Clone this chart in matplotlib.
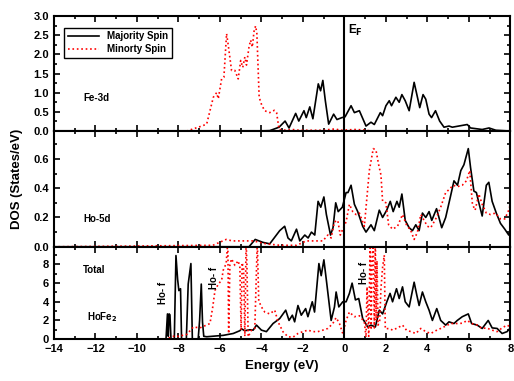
import matplotlib
matplotlib.use("Agg")
import matplotlib.pyplot as plt
from matplotlib.ticker import MultipleLocator

plt.rcParams["font.family"] = ["Liberation Sans", "DejaVu Sans"]
plt.rcParams["font.weight"] = "bold"
plt.rcParams["axes.labelweight"] = "bold"

# ---- Fe-3d ----
e_fe_up = [-14, -4.2, -3.6, -3.15, -2.86, -2.67, -2.35, -2.2, -1.95, -1.84, -1.67, -1.52,
           -1.26, -1.15, -1.04, -0.92, -0.76, -0.52, -0.36, -0.12, 0.03, 0.32, 0.48, 0.72,
           1.04, 1.28, 1.44, 1.73, 1.84, 2.0, 2.16, 2.27, 2.48, 2.64, 2.77, 2.93, 3.12,
           3.36, 3.52, 3.63, 3.79, 3.92, 4.08, 4.2, 4.39, 4.59, 4.8, 5.04, 5.2, 5.92,
           6.08, 6.64, 6.97, 7.3, 8.0]
fe_up = [0, 0, 0.01, 0.1, 0.26, 0.08, 0.46, 0.26, 0.53, 0.35, 0.63, 0.32,
         1.23, 1.05, 1.32, 0.79, 0.18, 0.44, 0.3, 0.35, 0.37, 0.66, 0.48, 0.53,
         0.13, 0.23, 0.17, 0.48, 0.4, 0.66, 0.79, 0.66, 0.88, 0.75, 0.95, 0.79, 0.53,
         1.27, 0.88, 0.61, 0.95, 0.83, 0.44, 0.35, 0.53, 0.26, 0.1, 0.13, 0.1, 0.17,
         0.08, 0.04, 0.08, 0.02, 0.0]
e_fe_dn = [-14, -7.6, -6.88, -6.64, -6.32, -6.16, -6.08, -5.92, -5.81, -5.68, -5.6, -5.44,
           -5.28, -5.12, -5.0, -4.9, -4.8, -4.72, -4.6, -4.52, -4.44, -4.35, -4.28, -4.22,
           -4.11, -4.0, -3.85, -3.6, -3.38, -3.27, -3.15, -2.8, -2.5, -2.2, -1.0, -0.6,
           -0.4, -0.2, 0.5, 0.9, 1.3, 8.0]
fe_dn = [0, 0, 0.13, 0.18, 0.88, 1.0, 0.84, 1.36, 1.4, 2.54, 2.24, 1.58,
         1.58, 1.36, 1.84, 1.66, 1.93, 1.72, 2.19, 2.37, 2.19, 2.63, 2.74, 2.54,
         0.88, 0.7, 0.53, 0.48, 0.54, 0.48, 0.04, 0.02, 0.04, 0.02, 0.02, 0.05,
         0.05, 0.02, 0.04, 0.03, 0.0, 0.0]

# ---- Ho-5d ----
e_ho_up = [-14, -4.6, -4.3, -3.93, -3.6, -3.12, -2.88, -2.72, -2.56, -2.31, -2.15, -1.91,
           -1.75, -1.59, -1.43, -1.27, -1.14, -0.99, -0.87, -0.67, -0.55, -0.42, -0.3,
           -0.1, 0.08, 0.17, 0.32, 0.48, 0.64, 0.88, 1.04, 1.28, 1.44, 1.68, 1.84, 2.04,
           2.21, 2.35, 2.53, 2.64, 2.77, 2.93, 3.12, 3.28, 3.44, 3.6, 3.76, 3.92, 4.08,
           4.21, 4.44, 4.69, 4.88, 5.09, 5.28, 5.45, 5.61, 5.76, 5.97, 6.08, 6.24, 6.36,
           6.48, 6.64, 6.84, 6.96, 7.12, 7.32, 7.52, 7.73, 7.92, 8.0]
ho_up = [0, 0, 0.05, 0.03, 0.02, 0.11, 0.14, 0.06, 0.04, 0.12, 0.04, 0.08,
         0.06, 0.1, 0.08, 0.31, 0.27, 0.34, 0.22, 0.08, 0.13, 0.3, 0.24,
         0.27, 0.37, 0.37, 0.42, 0.29, 0.24, 0.14, 0.1, 0.15, 0.11, 0.25, 0.2, 0.25,
         0.31, 0.24, 0.31, 0.27, 0.36, 0.18, 0.13, 0.11, 0.15, 0.11, 0.23, 0.2, 0.24,
         0.18, 0.26, 0.13, 0.2, 0.33, 0.45, 0.42, 0.52, 0.56, 0.67, 0.54, 0.38, 0.37,
         0.3, 0.21, 0.42, 0.44, 0.31, 0.23, 0.16, 0.12, 0.08, 0.11]
e_ho_dn = [-14, -6.34, -5.7, -5.4, -4.8, -4.4, -3.77, -3.1, -2.3, -1.84, -1.04, -0.8,
           -0.64, -0.48, -0.32, -0.2, -0.08, 0.08, 0.24, 0.4, 0.56, 0.72, 0.96, 1.2,
           1.39, 1.52, 1.65, 1.76, 1.84, 2.0, 2.13, 2.32, 2.56, 2.8, 2.99, 3.2, 3.36,
           3.52, 3.68, 3.84, 4.0, 4.16, 4.4, 4.64, 4.88, 5.04, 5.24, 5.44, 5.68, 5.88,
           6.04, 6.17, 6.3, 6.48, 6.64, 6.84, 7.04, 7.28, 7.52, 7.73, 7.92, 8.0]
ho_dn = [0, 0.01, 0.05, 0.04, 0.04, 0.04, 0.02, 0.01, 0.01, 0.04, 0.04, 0.08,
         0.06, 0.17, 0.18, 0.08, 0.12, 0.17, 0.29, 0.24, 0.22, 0.23, 0.14, 0.52,
         0.67, 0.66, 0.56, 0.49, 0.31, 0.3, 0.15, 0.12, 0.14, 0.22, 0.15, 0.11, 0.05,
         0.1, 0.22, 0.18, 0.14, 0.13, 0.19, 0.27, 0.37, 0.39, 0.42, 0.41, 0.42, 0.45,
         0.52, 0.29, 0.25, 0.36, 0.29, 0.23, 0.22, 0.23, 0.19, 0.19, 0.25, 0.29]

# ---- Total ----
e_tot_up = [-14, -8.6, -8.53, -8.49, -8.45, -8.41, -8.36, -8.2, -8.12, -8.04, -7.98, -7.9,
            -7.85, -7.62, -7.53, -7.4, -7.33, -7.05, -6.98, -6.9, -6.84, -6.78, -6.64,
            -5.84, -5.36, -5.04, -4.96, -4.8, -4.56, -4.4, -4.24, -4.0, -3.76, -3.44,
            -3.12, -2.83, -2.67, -2.51, -2.4, -2.24, -2.08, -1.87, -1.76, -1.55, -1.44,
            -1.23, -1.12, -0.99, -0.85, -0.64, -0.48, -0.4, -0.27, -0.08, 0.08, 0.24,
            0.37, 0.53, 0.69, 0.88, 1.12, 1.28, 1.49, 1.68, 1.84, 2.04, 2.2, 2.32, 2.51,
            2.64, 2.8, 2.93, 3.12, 3.36, 3.49, 3.6, 3.76, 3.92, 4.08, 4.24, 4.45, 4.64,
            4.88, 5.04, 5.28, 5.44, 5.68, 5.97, 6.13, 6.4, 6.64, 6.93, 7.12, 7.36, 7.6,
            7.84, 8.0]
tot_up = [0, 0, 2.7, 0.3, 2.7, 2.6, 0, 0, 8.96, 6.4, 5.2, 5.4,
          0, 0, 5.9, 8.1, 0, 0, 2.0, 5.9, 1.8, 0.3, 0.25,
          0.4, 0.6, 0.9, 1.1, 0.9, 1.0, 0.96, 1.5, 0.96, 0.8, 1.67,
          2.2, 3.1, 2.0, 2.56, 1.85, 3.6, 2.56, 3.27, 2.4, 4.0, 2.9,
          8.1, 6.8, 8.5, 5.94, 2.0, 3.45, 5.05, 3.45, 4.0, 4.0, 4.9,
          6.0, 4.2, 4.35, 2.2, 1.3, 1.5, 1.3, 3.1, 2.7, 3.98, 4.9, 4.0, 5.4,
          4.35, 5.6, 4.0, 3.45, 6.1, 4.7, 3.6, 5.05, 4.0, 3.1, 2.0, 3.27, 2.0,
          1.5, 1.85, 1.67, 2.0, 2.4, 2.7, 1.67, 1.5, 1.14, 2.0, 1.2, 1.14, 0.6,
          0.8, 1.2]
e_tot_dn = [-14, -8.6, -8.24, -8.0, -7.6, -7.28, -6.97, -6.65, -6.48, -6.35, -6.24, -6.08,
            -5.92, -5.84, -5.7, -5.62, -5.58, -5.52, -5.44, -5.28, -5.12, -5.04, -4.98,
            -4.93, -4.86, -4.8, -4.74, -4.7, -4.64, -4.48, -4.32, -4.2, -4.13, -4.0, -3.84,
            -3.6, -3.36, -3.2, -2.96, -2.72, -2.48, -2.24, -2.0, -1.76, -1.52, -1.28,
            -1.04, -0.8, -0.56, -0.4, -0.24, -0.08, 0.08, 0.24, 0.48, 0.72, 0.96, 1.04,
            1.09, 1.17, 1.24, 1.29, 1.33, 1.39, 1.44, 1.49, 1.53, 1.57, 1.62, 1.7, 1.76,
            1.84, 1.92, 1.97, 2.16, 2.32, 2.56, 2.8, 2.99, 3.2, 3.44, 3.68, 3.92, 4.16,
            4.4, 4.64, 4.88, 5.12, 5.44, 5.68, 5.92, 6.13, 6.4, 6.64, 6.84, 7.12, 7.36,
            7.6, 7.84, 8.0]
tot_dn = [0, 0, 0.3, 0.3, 0.5, 1.3, 1.2, 1.5, 1.67, 3.4, 5.2, 5.9,
          6.3, 7.4, 8.1, 10.5, 0.6, 8.0, 8.6, 7.9, 8.4, 7.7, 0.96,
          8.2, 7.5, 0.3, 10.5, 8.0, 0.25, 0.96, 1.14, 10.5, 4.1, 3.45, 2.9,
          2.7, 3.1, 1.85, 0.78, 0.25, 0.2, 0.6, 0.8, 0.96, 0.8, 0.8,
          0.96, 1.14, 1.67, 2.3, 1.67, 0.6, 2.0, 2.9, 2.4, 2.5, 1.85, 0.2,
          5.6, 0.3, 10.5, 1.0, 8.4, 10.5, 1.2, 10.5, 2.0, 8.4, 1.5, 2.0, 5.4,
          7.7, 9.0, 1.1, 1.14, 0.96, 1.2, 1.5, 0.96, 0.8, 0.6, 1.14, 0.8, 0.6,
          0.9, 1.14, 1.4, 1.67, 1.67, 1.7, 2.0, 1.67, 1.5, 1.14, 1.2, 0.96, 0.8,
          1.2, 1.5, 1.3]

panels = [("Fe-3d", e_fe_up, fe_up, e_fe_dn, fe_dn),
          ("Ho-5d", e_ho_up, ho_up, e_ho_dn, ho_dn),
          ("Total", e_tot_up, tot_up, e_tot_dn, tot_dn)]

fig, axes = plt.subplots(3, 1, sharex=True, figsize=(5.14, 3.81), dpi=100,
                         gridspec_kw=dict(height_ratios=[115, 115.7, 92.3], hspace=0,
                                          left=0.105, right=0.993, top=0.958, bottom=0.11))

for ax, (name, eu, up, ed, dn) in zip(axes, panels):
    ax.plot(eu, up, color="black", lw=1.2, label="Majority Spin")
    ax.plot(ed, dn, color="red", lw=1.2, ls=":", label="Minorty Spin")
    ax.axvline(0, color="black", lw=1.5)
    ax.set_xlim(-14, 8)
    ax.xaxis.set_major_locator(MultipleLocator(2))
    ax.xaxis.set_minor_locator(MultipleLocator(1))
    ax.tick_params(which="both", direction="in", top=True, right=True, labelsize=8, width=1.2)
    ax.tick_params(which="major", length=4)
    ax.tick_params(which="minor", length=2.5)
    for s in ax.spines.values():
        s.set_linewidth(1.5)

axes[0].set_ylim(0, 3)
axes[0].yaxis.set_major_locator(MultipleLocator(0.5))
axes[0].yaxis.set_minor_locator(MultipleLocator(0.25))
axes[0].yaxis.set_major_formatter(plt.FormatStrFormatter("%.1f"))
axes[1].set_ylim(0, 0.79)
axes[1].yaxis.set_major_locator(MultipleLocator(0.2))
axes[1].yaxis.set_minor_locator(MultipleLocator(0.1))
axes[1].yaxis.set_major_formatter(plt.FormatStrFormatter("%.1f"))
axes[2].set_ylim(0, 9.9)
axes[2].yaxis.set_major_locator(MultipleLocator(2))
axes[2].yaxis.set_minor_locator(MultipleLocator(1))

axes[0].legend(loc="upper left", bbox_to_anchor=(0.022, 0.9), borderaxespad=0,
               fancybox=False, edgecolor="black", framealpha=1, fontsize=7,
               handlelength=3.2, borderpad=0.4, labelspacing=0.3)
axes[0].get_legend().get_frame().set_linewidth(1.0)

axes[0].text(-12.6, 0.87, "Fe-3d", fontsize=7, va="center")
axes[0].text(0.15, 2.62, "E$_\\mathbf{F}$", fontsize=8.5, va="center")
axes[1].text(-12.6, 0.19, "Ho-5d", fontsize=7, va="center")
axes[2].text(-12.6, 7.4, "Total", fontsize=7, va="center")
axes[2].text(-12.4, 2.4, "HoFe$_\\mathbf{2}$", fontsize=7, va="center")
axes[2].text(-8.75, 5.0, "Ho- f", fontsize=7, rotation=90, ha="center", va="center")
axes[2].text(-6.3, 6.6, "Ho- f", fontsize=7, rotation=90, ha="center", va="center")
axes[2].text(0.95, 7.1, "Ho- f", fontsize=7, rotation=90, ha="center", va="center")

axes[2].set_xlabel("Energy (eV)", fontsize=9.5)
fig.text(0.033, 0.53, "DOS (States/eV)", rotation=90, fontsize=9.5,
         ha="center", va="center", fontweight="bold")

fig.savefig("out.png", dpi=100)
